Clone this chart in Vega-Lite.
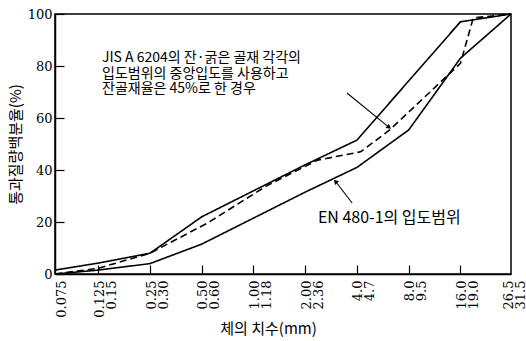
{
  "$schema": "https://vega.github.io/schema/vega-lite/v6.json",
  "width": 456,
  "height": 260,
  "autosize": {"type": "none"},
  "padding": {"left": 55, "top": 14, "right": 15, "bottom": 67},
  "background": "white",
  "config": {
    "view": {"stroke": "black", "strokeWidth": 1.5},
    "axis": {
      "domainColor": "black", "domainWidth": 1.5,
      "tickColor": "black", "tickWidth": 1.2,
      "labelColor": "black", "labelFont": "DejaVu Serif", "labelFontSize": 13,
      "titleColor": "black", "titleFont": "Noto Sans CJK KR", "titleFontSize": 15, "titleFontWeight": "normal",
      "grid": false
    }
  },
  "datasets": {
    "curves": [
      {"series": "EN upper", "x": 0.07, "y": 1.5},
      {"series": "EN upper", "x": 0.125, "y": 4.2},
      {"series": "EN upper", "x": 0.25, "y": 8},
      {"series": "EN upper", "x": 0.5, "y": 22},
      {"series": "EN upper", "x": 1, "y": 32},
      {"series": "EN upper", "x": 2, "y": 42},
      {"series": "EN upper", "x": 4, "y": 51.5},
      {"series": "EN upper", "x": 16, "y": 97},
      {"series": "EN upper", "x": 31.5, "y": 100},
      {"series": "EN lower", "x": 0.07, "y": 0},
      {"series": "EN lower", "x": 0.125, "y": 1.5},
      {"series": "EN lower", "x": 0.25, "y": 4},
      {"series": "EN lower", "x": 0.5, "y": 11.5},
      {"series": "EN lower", "x": 1, "y": 21.5},
      {"series": "EN lower", "x": 2, "y": 31.5},
      {"series": "EN lower", "x": 4, "y": 41},
      {"series": "EN lower", "x": 8, "y": 55.4},
      {"series": "EN lower", "x": 16, "y": 83},
      {"series": "EN lower", "x": 31.5, "y": 100},
      {"series": "JIS middle", "x": 0.07, "y": 0},
      {"series": "JIS middle", "x": 0.125, "y": 2.2},
      {"series": "JIS middle", "x": 0.25, "y": 8},
      {"series": "JIS middle", "x": 0.54, "y": 19.6},
      {"series": "JIS middle", "x": 1.2, "y": 34},
      {"series": "JIS middle", "x": 2.36, "y": 43.8},
      {"series": "JIS middle", "x": 4.2, "y": 47},
      {"series": "JIS middle", "x": 6.2, "y": 55.4},
      {"series": "JIS middle", "x": 16, "y": 81},
      {"series": "JIS middle", "x": 19, "y": 98.5},
      {"series": "JIS middle", "x": 31.5, "y": 100}
    ],
    "notes": [
      {"x": 0.1314, "y": 82.9, "label": "JIS A 6204의 잔·굵은 골재 각각의\n입도범위의 중앙입도를 사용하고\n잔골재율은 45%로 한 경우"}
    ],
    "notes2": [
      {"x": 2.37, "y": 21.5, "label": "EN 480-1의 입도범위"}
    ],
    "arrows": [
      {"x": 3.5, "y": 69.6, "x2": 6.1, "y2": 56.6},
      {"x": 3.75, "y": 27.3, "x2": 3.02, "y2": 35.4}
    ]
  },
  "encoding": {
    "x": {
      "field": "x", "type": "quantitative",
      "scale": {"type": "log", "domain": [0.07, 31.5], "nice": false},
      "axis": {
        "title": "체의 치수(mm)",
        "values": [0.075, 0.125, 0.25, 0.5, 1, 2, 4, 8, 16, 31.5],
        "labelExpr": "datum.value < 0.1 ? '0.075' : datum.value < 0.2 ? ['0.125','0.15'] : datum.value < 0.3 ? ['0.25','0.30'] : datum.value < 0.7 ? ['0.50','0.60'] : datum.value < 1.5 ? ['1.00','1.18'] : datum.value < 3 ? ['2.00','2.36'] : datum.value < 5 ? ['4.0','4.7'] : datum.value < 10 ? ['8.0','9.5'] : datum.value < 20 ? ['16.0','19.0'] : ['26.5','31.5']",
        "labelAngle": -90,
        "labelAlign": "right",
        "labelBaseline": "top",
        "labelOffset": {"condition": {"test": "datum.value > 20", "value": -9}, "value": -5},
        "labelLineHeight": 12,
        "labelPadding": 15,
        "labelOverlap": false,
        "labelFlush": false,
        "tickSize": -9,
        "tickOpacity": {"condition": {"test": "datum.value < 0.1 || datum.value > 20", "value": 0}, "value": 1},
        "titleX": 213,
        "titlePadding": 4
      }
    },
    "y": {
      "field": "y", "type": "quantitative",
      "scale": {"domain": [0, 100], "nice": false},
      "axis": {
        "title": "통과질량백분율(%)",
        "values": [0, 20, 40, 60, 80, 100],
        "tickSize": -9,
        "labelPadding": 12,
        "titlePadding": 4
      }
    }
  },
  "layer": [
    {
      "data": {"name": "curves"},
      "mark": {"type": "line", "color": "black", "strokeWidth": 1.6},
      "encoding": {
        "detail": {"field": "series"},
        "strokeDash": {
          "field": "series", "type": "nominal",
          "scale": {"domain": ["EN upper", "EN lower", "JIS middle"], "range": [[1, 0], [1, 0], [7, 4]]},
          "legend": null
        }
      }
    },
    {
      "data": {"name": "notes"},
      "mark": {"type": "text", "align": "left", "baseline": "middle", "lineBreak": "\n", "lineHeight": 15.5, "font": "Noto Sans CJK KR", "fontSize": 14, "color": "black"},
      "encoding": {"text": {"field": "label"}}
    },
    {
      "data": {"name": "notes2"},
      "mark": {"type": "text", "align": "left", "baseline": "middle", "font": "Noto Sans CJK KR", "fontSize": 16, "color": "black"},
      "encoding": {"text": {"field": "label"}}
    },
    {
      "data": {"name": "arrows"},
      "mark": {"type": "rule", "color": "black", "strokeWidth": 1.1},
      "encoding": {"x2": {"field": "x2"}, "y2": {"field": "y2"}}
    },
    {
      "data": {"values": [{"x": 6.1, "y": 56.6}]},
      "mark": {"type": "point", "shape": "triangle", "filled": true, "color": "black", "size": 30, "angle": 129, "opacity": 1},
      "encoding": {}
    },
    {
      "data": {"values": [{"x": 3.02, "y": 35.4}]},
      "mark": {"type": "point", "shape": "triangle", "filled": true, "color": "black", "size": 30, "angle": 316, "opacity": 1},
      "encoding": {}
    }
  ]
}
